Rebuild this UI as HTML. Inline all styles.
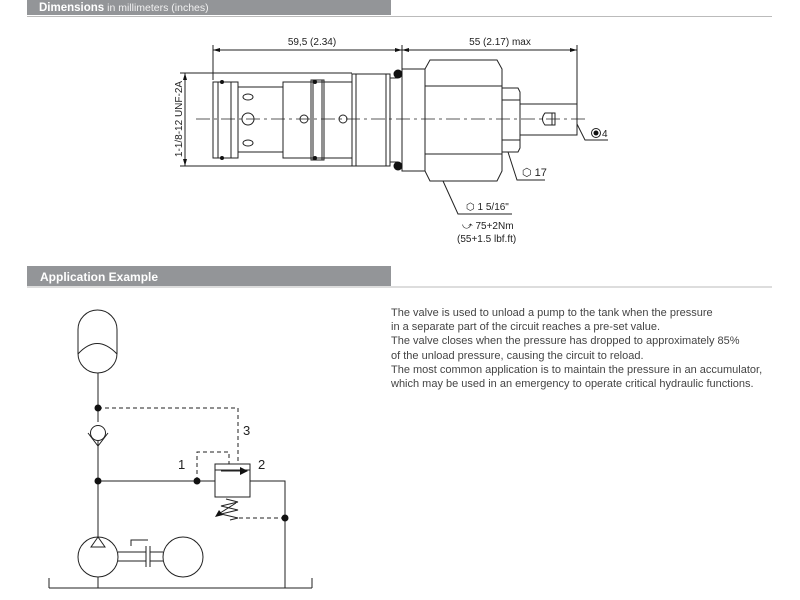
<!DOCTYPE html>
<html><head><meta charset="utf-8"><style>
html,body{margin:0;padding:0;background:#fff;width:800px;height:600px;overflow:hidden}
svg{display:block}
</style></head><body>
<svg width="800" height="600" viewBox="0 0 800 600" xmlns="http://www.w3.org/2000/svg" font-family="Liberation Sans, sans-serif">
<!-- headers -->
<rect x="27" y="0" width="364" height="15" fill="#939598"/>
<line x1="27" y1="16.5" x2="772" y2="16.5" stroke="#bbb" stroke-width="1"/>
<text x="39" y="11" font-size="11.5" fill="#fff"><tspan font-weight="bold">Dimensions</tspan><tspan font-size="10.5" fill="#f0f0f0"> in millimeters (inches)</tspan></text>
<rect x="27" y="266" width="364" height="20" fill="#939598"/>
<line x1="27" y1="287" x2="772" y2="287" stroke="#bbb" stroke-width="1"/>
<text x="40" y="281" font-size="12" font-weight="bold" fill="#fff">Application Example</text>

<!-- valve drawing -->
<g stroke="#222" stroke-width="1" fill="none">
<line x1="213" y1="45" x2="213" y2="80"/>
<line x1="402" y1="45" x2="402" y2="70"/>
<line x1="577" y1="45" x2="577" y2="104"/>
<line x1="213" y1="50" x2="577" y2="50"/>
<line x1="180" y1="73" x2="352" y2="73"/>
<line x1="180" y1="166" x2="352" y2="166"/>
<line x1="185" y1="73" x2="185" y2="166"/>
<line x1="196" y1="119" x2="585" y2="119" stroke-dasharray="14,4,3,4" stroke-width="0.8"/>
<rect x="213" y="82" width="25" height="76"/>
<line x1="218" y1="82" x2="218" y2="158"/>
<line x1="231" y1="82" x2="231" y2="158"/>
<rect x="238" y="87" width="45" height="65"/>
<ellipse cx="248" cy="97" rx="5" ry="3"/>
<ellipse cx="248" cy="143" rx="5" ry="3"/>
<circle cx="248" cy="119" r="6"/>
<rect x="283" y="82" width="69" height="76"/>
<line x1="313" y1="80" x2="313" y2="160"/>
<line x1="322" y1="80" x2="322" y2="160"/>
<rect x="311" y="80" width="13" height="80"/>
<circle cx="304" cy="119" r="4"/>
<circle cx="343" cy="119" r="4"/>
<rect x="352" y="74" width="38" height="92"/>
<line x1="356" y1="74" x2="356" y2="166"/>
<line x1="386" y1="74" x2="386" y2="166"/>
<line x1="390" y1="78" x2="398" y2="78"/><line x1="390" y1="162" x2="398" y2="162"/>
<rect x="402" y="69" width="23" height="102"/>
<path d="M425 69 L430 60 L497 60 L502 69 L502 171 L497 181 L430 181 L425 171 Z"/>
<line x1="425" y1="86" x2="502" y2="86"/><line x1="425" y1="154" x2="502" y2="154"/>
<path d="M502 88 L518 88 L520 92 L520 148 L518 152 L502 152"/>
<line x1="502" y1="100" x2="520" y2="100"/><line x1="502" y1="140" x2="520" y2="140"/>
<rect x="520" y="104" width="57" height="31"/>
<path d="M555 113 L545 113 Q540 119 545 125 L555 125 Z"/>
<line x1="552" y1="113" x2="552" y2="125"/>
<polyline points="443,181 458,214 512,214"/>
<polyline points="508,152 517,180 545,180"/>
<polyline points="577,124 585,140 608,140"/>
</g>
<g fill="#111">
<circle cx="398" cy="74" r="4.5"/><circle cx="398" cy="166" r="4.5"/>
<circle cx="222" cy="82" r="2"/><circle cx="222" cy="158" r="2"/>
<circle cx="315" cy="82" r="2"/><circle cx="315" cy="158" r="2"/>
<path d="M213 50 l7 -2 v4 z"/><path d="M402 50 l-7 -2 v4 z"/><path d="M402 50 l7 -2 v4 z"/><path d="M577 50 l-7 -2 v4 z"/>
<path d="M185 73 l-2 7 h4 z"/><path d="M185 166 l-2 -7 h4 z"/>
<circle cx="596" cy="133" r="2.5"/>
</g>
<circle cx="596" cy="133" r="4.5" fill="none" stroke="#222"/>
<g font-size="10" fill="#222">
<text x="312" y="45" text-anchor="middle">59,5 (2.34)</text>
<text x="500" y="45" text-anchor="middle">55 (2.17) max</text>
<text transform="translate(182,119) rotate(-90)" text-anchor="middle">1-1/8-12 UNF-2A</text>
<text x="602" y="137">4</text>
<text x="522" y="176" font-size="11">⬡ 17</text>
<text x="466" y="210">⬡ 1 5/16"</text>
<text x="462" y="229">⤻ 75+2Nm</text>
<text x="457" y="242">(55+1.5 lbf.ft)</text>
</g>

<!-- schematic -->
<g stroke="#222" stroke-width="1" fill="none">
<rect x="78" y="310" width="39" height="63" rx="19.5"/>
<path d="M78 354 Q97 333 117 354"/>
<line x1="98" y1="373" x2="98" y2="422"/>
<circle cx="98" cy="433" r="7.5"/>
<polyline points="88,433 98,446 108,433"/>
<line x1="98" y1="441" x2="98" y2="537"/>
<circle cx="98" cy="557" r="20"/>
<line x1="98" y1="577" x2="98" y2="588"/>
<circle cx="183" cy="557" r="20"/>
<line x1="118" y1="552" x2="146" y2="552"/><line x1="118" y1="561" x2="146" y2="561"/>
<line x1="150" y1="552" x2="163" y2="552"/><line x1="150" y1="561" x2="163" y2="561"/>
<line x1="146" y1="546" x2="146" y2="567"/><line x1="150" y1="546" x2="150" y2="567"/>
<polyline points="131,546 131,540 148,540"/>
<line x1="49" y1="578" x2="49" y2="588"/><line x1="312" y1="578" x2="312" y2="588"/>
<line x1="49" y1="588" x2="312" y2="588"/>
<line x1="98" y1="481" x2="215" y2="481"/>
<rect x="215" y="464" width="35" height="33"/>
<line x1="215" y1="470" x2="250" y2="470"/>
<line x1="221" y1="471" x2="240" y2="471"/>
<polyline points="250,481 285,481 285,588"/>
<polyline points="226,499 238,502 221,506 238,510 221,514 238,518 230,520"/>
<line x1="236" y1="503" x2="217" y2="515"/>
<g stroke-dasharray="4,3">
<polyline points="98,408 238,408 238,464"/>
<polyline points="197,481 197,452 229,452 229,464"/>
<line x1="285" y1="518" x2="238" y2="518"/>
</g>
</g>
<g fill="#111">
<path d="M98 537 l-7 10 h14 z" fill="none" stroke="#222"/>
<path d="M248 471 l-8 -4 v8 z"/>
<path d="M215 517 l8 -2 l-4 -5 z"/>
<circle cx="98" cy="408" r="3.5"/><circle cx="98" cy="481" r="3.5"/>
<circle cx="197" cy="481" r="3.5"/><circle cx="285" cy="518" r="3.5"/>
</g>
<g font-size="13" fill="#222">
<text x="178" y="469">1</text><text x="258" y="469">2</text><text x="243" y="435">3</text>
</g>

<g font-size="11" fill="#444">
<text x="391" y="316">The valve is used to unload a pump to the tank when the pressure</text>
<text x="391" y="330">in a separate part of the circuit reaches a pre-set value.</text>
<text x="391" y="344">The valve closes when the pressure has dropped to approximately 85%</text>
<text x="391" y="359">of the unload pressure, causing the circuit to reload.</text>
<text x="391" y="373">The most common application is to maintain the pressure in an accumulator,</text>
<text x="391" y="387">which may be used in an emergency to operate critical hydraulic functions.</text>
</g>
</svg>
</body></html>
